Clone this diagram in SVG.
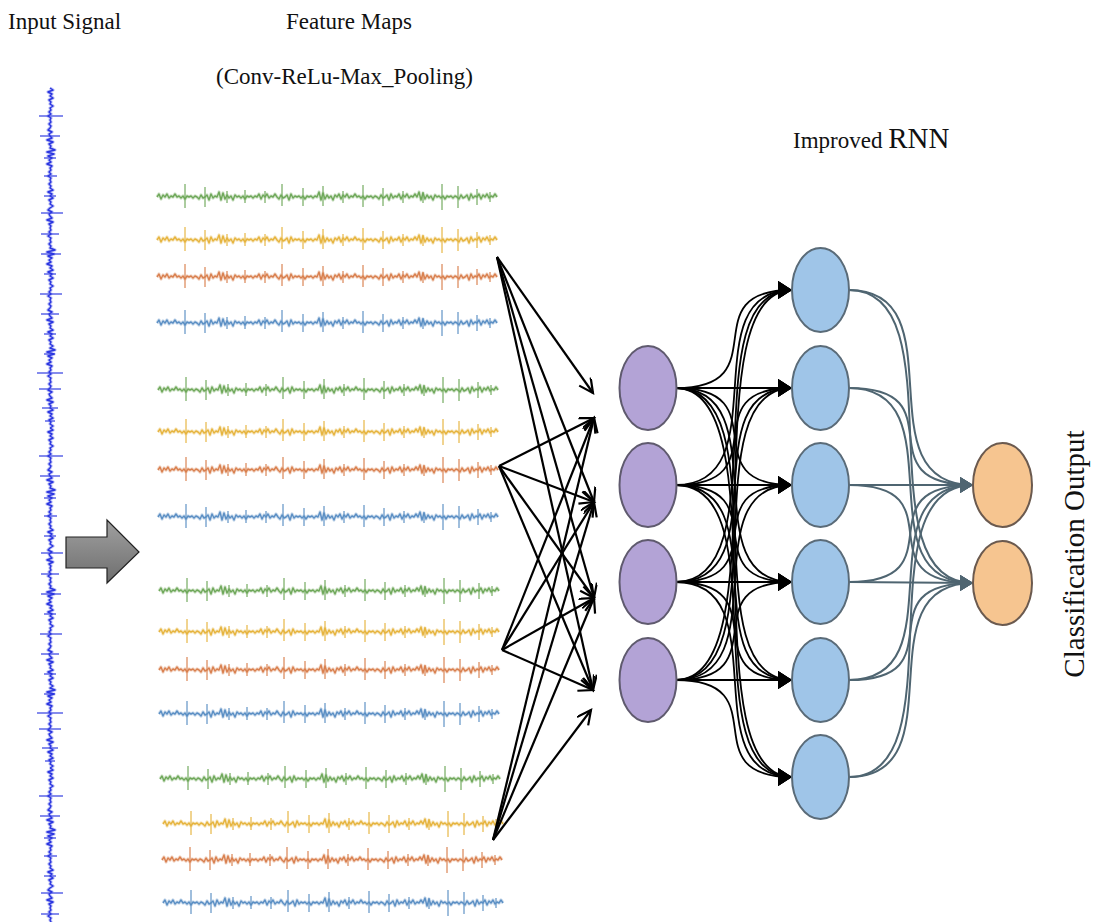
<svg xmlns="http://www.w3.org/2000/svg" xmlns:xlink="http://www.w3.org/1999/xlink" width="1094" height="922" viewBox="0 0 1094 922">
  <style>
    .lbl { font-family: "Liberation Serif", "Times New Roman", serif; fill: #111; }
    .wave { fill: none; stroke-linejoin: round; }
    .haze { opacity: 0.3; }
    .fan { stroke: #000; stroke-width: 2.2; fill: none; marker-end: url(#openHead); }
    .dense { stroke: #000; stroke-width: 1.8; fill: none; marker-end: url(#solidHead); }
    .out { stroke: #4f6571; stroke-width: 2; fill: none; marker-end: url(#slateHead); }
    .inN { fill: #b3a3d6; stroke: #5f5a6e; stroke-width: 2; }
    .hidN { fill: #9fc5e8; stroke: #5a6b78; stroke-width: 2; }
    .outN { fill: #f6c590; stroke: #6b5a4f; stroke-width: 2; }
  </style>
  <defs>
    <!-- one noisy trace with spikes, reused for every channel -->
    <g id="trace" class="wave">
      <path d="M0,0 l2,-3 2,5 2,-4 2,2 2,-3 2,4 2,-2 2,1 2,-3 2,3 l2,-1 2,2 2,-2 2,3 2,-3 2,1 2,-1 2,2 2,-2 2,1 l2,2 2,-4 2,3 2,-1 2,-2 2,5 2,-6 2,4 2,-2 2,1 l2,-5 2,8 2,-7 2,6 2,-4 2,3 2,-2 2,4 2,-5 2,2 l2,-1 2,2 2,-2 2,3 2,-3 2,1 2,-1 2,2 2,-2 2,1 l2,-3 2,5 2,-4 2,2 2,-3 2,4 2,-2 2,1 2,-3 2,3 l2,2 2,-4 2,3 2,-1 2,-2 2,5 2,-6 2,4 2,-2 2,1 l2,-1 2,2 2,-2 2,3 2,-3 2,1 2,-1 2,2 2,-2 2,1 l2,-5 2,8 2,-7 2,6 2,-4 2,3 2,-2 2,4 2,-5 2,2 l2,-3 2,5 2,-4 2,2 2,-3 2,4 2,-2 2,1 2,-3 2,3 l2,-1 2,2 2,-2 2,3 2,-3 2,1 2,-1 2,2 2,-2 2,1 l2,2 2,-4 2,3 2,-1 2,-2 2,5 2,-6 2,4 2,-2 2,1 l2,-3 2,5 2,-4 2,2 2,-3 2,4 2,-2 2,1 2,-3 2,3 l2,-5 2,8 2,-7 2,6 2,-4 2,3 2,-2 2,4 2,-5 2,2 l2,-1 2,2 2,-2 2,3 2,-3 2,1 2,-1 2,2 2,-2 2,1 l2,2 2,-4 2,3 2,-1 2,-2 2,5 2,-6 2,4 2,-2 2,1 l2,-3 2,5 2,-4 2,2 2,-3 2,4 2,-2 2,1 2,-3 2,3"/>
      <path stroke-width="1" d="M28,-13v24 M48,-10v20 M70,-6v12 M88,-7v13 M108,-6v12 M125,-13v22 M146,-9v18 M166,-11v20 M186,-6v12 M206,-12v22 M226,-9v18 M246,-6v12 M266,-5v11 M285,-13v26 M301,-11v22 M320,-8v16 M333,-5v10"/>
    </g>
    <!-- a channel: soft halo under the crisp trace -->
    <g id="channel">
      <use xlink:href="#trace" class="haze" stroke-width="3.2"/>
      <use xlink:href="#trace" stroke-width="1.4"/>
    </g>
    <linearGradient id="gray" x1="0" y1="0" x2="0" y2="1">
      <stop offset="0" stop-color="#a0a0a0"/>
      <stop offset="1" stop-color="#6e6e6e"/>
    </linearGradient>
    <marker id="openHead" markerUnits="userSpaceOnUse" markerWidth="18" markerHeight="16" refX="15" refY="7" orient="auto">
      <path d="M1,0 L15,7 L1,14" fill="none" stroke="#000" stroke-width="2.2"/>
    </marker>
    <marker id="solidHead" markerUnits="userSpaceOnUse" markerWidth="14" markerHeight="18" refX="14" refY="9" orient="auto">
      <path d="M0,0 L14,9 L0,18 z" fill="#000"/>
    </marker>
    <marker id="slateHead" markerUnits="userSpaceOnUse" markerWidth="13" markerHeight="16" refX="13" refY="8" orient="auto">
      <path d="M0,0 L13,8 L0,16 z" fill="#4f6571"/>
    </marker>
  </defs>

  <rect width="1094" height="922" fill="#fff"/>

  <!-- titles -->
  <text class="lbl" font-family="Liberation Serif, serif" x="8" y="29" font-size="23">Input Signal</text>
  <text class="lbl" font-family="Liberation Serif, serif" x="286" y="29" font-size="23">Feature Maps</text>
  <text class="lbl" font-family="Liberation Serif, serif" x="216" y="84" font-size="23">(Conv-ReLu-Max_Pooling)</text>
  <text class="lbl" font-family="Liberation Serif, serif" x="793" y="148" font-size="23">Improved <tspan font-size="29">RNN</tspan></text>
  <text class="lbl" font-family="Liberation Serif, serif" font-size="29" text-anchor="middle" transform="translate(1084,554) rotate(-90)">Classification Output</text>

  <!-- raw input signal, drawn vertically -->
  <g id="input-signal" stroke="#2b36e0">
    <use xlink:href="#channel" transform="translate(50,88) rotate(90)"/>
    <use xlink:href="#channel" transform="translate(50,428) rotate(90)"/>
    <use xlink:href="#channel" transform="translate(50,768) rotate(90)"/>
  </g>

  <!-- block arrow -->
  <g id="block-arrow">
    <polygon points="66,537 107,537 107,520 139,552 107,583 107,568 66,568" fill="url(#gray)" stroke="#222" stroke-width="1.2"/>
  </g>

  <!-- feature map channels -->
  <g id="feature-maps">
    <use xlink:href="#channel" x="157" y="197" stroke="#6fa85a"/>
    <use xlink:href="#channel" x="157" y="240" stroke="#e6b43e"/>
    <use xlink:href="#channel" x="157" y="277" stroke="#d9804f"/>
    <use xlink:href="#channel" x="157" y="323" stroke="#5b8fc4"/>
    <use xlink:href="#channel" x="158" y="390" stroke="#6fa85a"/>
    <use xlink:href="#channel" x="158" y="432" stroke="#e6b43e"/>
    <use xlink:href="#channel" x="158" y="470" stroke="#d9804f"/>
    <use xlink:href="#channel" x="158" y="517" stroke="#5b8fc4"/>
    <use xlink:href="#channel" x="159" y="591" stroke="#6fa85a"/>
    <use xlink:href="#channel" x="159" y="632" stroke="#e6b43e"/>
    <use xlink:href="#channel" x="159" y="670" stroke="#d9804f"/>
    <use xlink:href="#channel" x="159" y="714" stroke="#5b8fc4"/>
    <use xlink:href="#channel" x="160" y="779" stroke="#6fa85a"/>
    <use xlink:href="#channel" x="163" y="824" stroke="#e6b43e"/>
    <use xlink:href="#channel" x="162" y="860" stroke="#d9804f"/>
    <use xlink:href="#channel" x="163" y="903" stroke="#5b8fc4"/>
  </g>

  <g id="connectors">
    <!-- feature maps to input layer -->
    <path class="fan" d="M497,257 L593,393"/>
    <path class="fan" d="M497,257 L594,502"/>
    <path class="fan" d="M497,257 L594,598"/>
    <path class="fan" d="M497,257 L593,690"/>
    <path class="fan" d="M499,466 L594,418"/>
    <path class="fan" d="M499,466 L594,502"/>
    <path class="fan" d="M499,466 L594,598"/>
    <path class="fan" d="M499,466 L593,690"/>
    <path class="fan" d="M502,650 L594,418"/>
    <path class="fan" d="M502,650 L594,502"/>
    <path class="fan" d="M502,650 L594,598"/>
    <path class="fan" d="M502,650 L593,690"/>
    <path class="fan" d="M493,840 L594,418"/>
    <path class="fan" d="M493,840 L594,502"/>
    <path class="fan" d="M493,840 L594,598"/>
    <path class="fan" d="M493,840 L591,710"/>

    <!-- input layer to hidden layer -->
    <path class="dense" d="M676,388 C780,388 690,290 792,290"/>
    <path class="dense" d="M676,388 L792,388"/>
    <path class="dense" d="M676,388 C780,388 690,485 792,485"/>
    <path class="dense" d="M676,388 C780,388 690,582 792,582"/>
    <path class="dense" d="M676,388 C780,388 690,680 792,680"/>
    <path class="dense" d="M676,388 C780,388 690,777 792,777"/>
    <path class="dense" d="M676,485 C780,485 690,290 792,290"/>
    <path class="dense" d="M676,485 C780,485 690,388 792,388"/>
    <path class="dense" d="M676,485 L792,485"/>
    <path class="dense" d="M676,485 C780,485 690,582 792,582"/>
    <path class="dense" d="M676,485 C780,485 690,680 792,680"/>
    <path class="dense" d="M676,485 C780,485 690,777 792,777"/>
    <path class="dense" d="M676,582 C780,582 690,290 792,290"/>
    <path class="dense" d="M676,582 C780,582 690,388 792,388"/>
    <path class="dense" d="M676,582 C780,582 690,485 792,485"/>
    <path class="dense" d="M676,582 L792,582"/>
    <path class="dense" d="M676,582 C780,582 690,680 792,680"/>
    <path class="dense" d="M676,582 C780,582 690,777 792,777"/>
    <path class="dense" d="M676,680 C780,680 690,290 792,290"/>
    <path class="dense" d="M676,680 C780,680 690,388 792,388"/>
    <path class="dense" d="M676,680 C780,680 690,485 792,485"/>
    <path class="dense" d="M676,680 C780,680 690,582 792,582"/>
    <path class="dense" d="M676,680 L792,680"/>
    <path class="dense" d="M676,680 C780,680 690,777 792,777"/>

    <!-- hidden layer to outputs -->
    <path class="out" d="M849,290 C960,290 860,485 973,485"/>
    <path class="out" d="M849,290 C960,290 860,583 973,583"/>
    <path class="out" d="M849,388 C960,388 860,485 973,485"/>
    <path class="out" d="M849,388 C960,388 860,583 973,583"/>
    <path class="out" d="M849,485 L973,485"/>
    <path class="out" d="M849,485 C960,485 860,583 973,583"/>
    <path class="out" d="M849,582 C960,582 860,485 973,485"/>
    <path class="out" d="M849,582 L973,583"/>
    <path class="out" d="M849,680 C960,680 860,485 973,485"/>
    <path class="out" d="M849,680 C960,680 860,583 973,583"/>
    <path class="out" d="M849,777 C960,777 860,485 973,485"/>
    <path class="out" d="M849,777 C960,777 860,583 973,583"/>
  </g>

  <!-- input layer -->
  <g id="in-1"><ellipse class="inN" cx="648" cy="388" rx="28.5" ry="42"/></g>
  <g id="in-2"><ellipse class="inN" cx="648" cy="485" rx="28.5" ry="42"/></g>
  <g id="in-3"><ellipse class="inN" cx="648" cy="582" rx="28.5" ry="42"/></g>
  <g id="in-4"><ellipse class="inN" cx="648" cy="680" rx="28.5" ry="42"/></g>

  <!-- hidden layer -->
  <g id="hid-1"><ellipse class="hidN" cx="820.5" cy="290" rx="28.5" ry="42"/></g>
  <g id="hid-2"><ellipse class="hidN" cx="820.5" cy="388" rx="28.5" ry="42"/></g>
  <g id="hid-3"><ellipse class="hidN" cx="820.5" cy="485" rx="28.5" ry="42"/></g>
  <g id="hid-4"><ellipse class="hidN" cx="820.5" cy="582" rx="28.5" ry="42"/></g>
  <g id="hid-5"><ellipse class="hidN" cx="820.5" cy="680" rx="28.5" ry="42"/></g>
  <g id="hid-6"><ellipse class="hidN" cx="820.5" cy="777" rx="28.5" ry="42"/></g>

  <!-- output layer -->
  <g id="out-1"><ellipse class="outN" cx="1002.5" cy="485" rx="29.5" ry="42"/></g>
  <g id="out-2"><ellipse class="outN" cx="1002.5" cy="583" rx="29.5" ry="42"/></g>
</svg>
